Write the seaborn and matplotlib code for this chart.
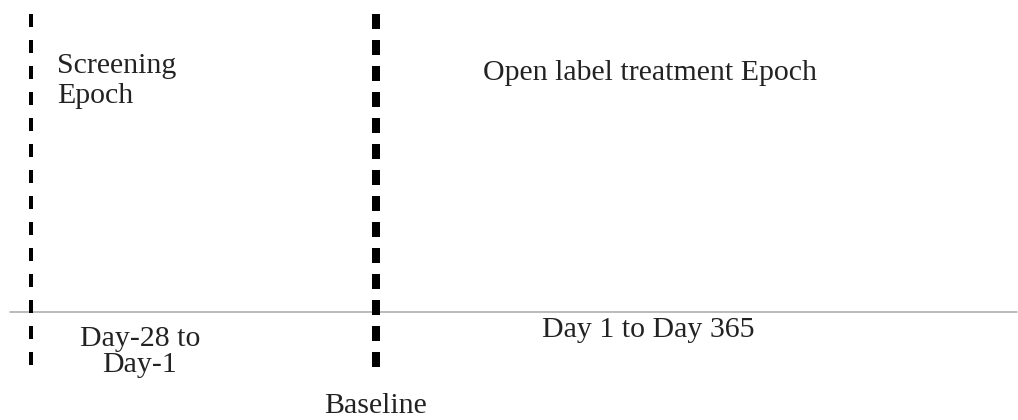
import pandas as pd
import matplotlib
matplotlib.use("Agg")
import matplotlib.pyplot as plt
import seaborn as sns

# timeline markers (x position in px of the figure) and their labels
marker_names = ["Screening start", "Baseline"]
marker_x = [31, 376]
marker_width = [4, 8]
marker_dash = [(13, 13), (15, 11)]

screening_lines = ["Screening", "Epoch"]
screening_y = [73, 103]
treatment_label = "Open label treatment Epoch"

window_lines = ["Day-28 to", "Day-1"]
window_y = [346, 372]
treatment_window = "Day 1 to Day 365"

baseline_label = "Baseline"
axis_y = 312
axis_x = [10, 1017]

sns.set_theme(style="white")
plt.rcParams['font.family'] = ['Liberation Serif', 'DejaVu Serif']
plt.rcParams['lines.scale_dashes'] = False

fig = plt.figure(figsize=(10.18, 4.2), dpi=100)
ax = fig.add_axes([0, 0, 1, 1])
ax.set_xlim(0, 1018)
ax.set_ylim(420, 0)
ax.axis("off")

# time axis
timeline = pd.DataFrame({"x": axis_x, "y": [axis_y, axis_y]})
sns.lineplot(data=timeline, x="x", y="y", color="#a8a8a8", linewidth=1.1, ax=ax)

# dashed epoch boundaries
for x, w, d in zip(marker_x, marker_width, marker_dash):
    ln, = ax.plot([x, x], [14, 372], color="black", linewidth=w * 0.72,
                  solid_capstyle="butt", dash_capstyle="butt")
    ln.set_dashes([v * 0.72 for v in d])
    ln.set_zorder(3)

fs = 21.5
txt = dict(fontsize=fs, color="#222222", va="baseline")
for lab, y in zip(screening_lines, screening_y):
    ax.text(57, y, lab, ha="left", **txt)
ax.text(483, 80, treatment_label, ha="left", **txt)

for lab, y in zip(window_lines, window_y):
    ax.text(140, y, lab, ha="center", **txt)
ax.text(648, 337, treatment_window, ha="center", **txt)
ax.text(376, 413, baseline_label, ha="center", **txt)

fig.savefig("out.png", dpi=100, facecolor="white")
